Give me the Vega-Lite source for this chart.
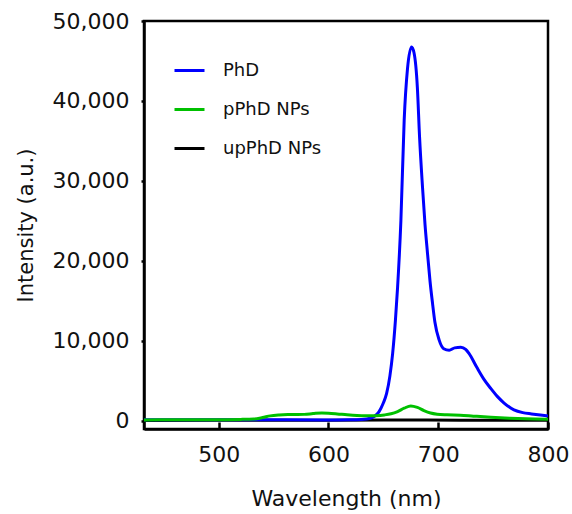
{
  "$schema": "https://vega.github.io/schema/vega-lite/v6.json",
  "autosize": "none",
  "width": 404,
  "height": 408,
  "padding": {"left": 144, "top": 21, "right": 24, "bottom": 85},
  "background": "white",
  "config": {
    "view": {"stroke": "black", "strokeWidth": 2.5},
    "font": "DejaVu Sans"
  },
  "data": {
    "values": [
      {"wavelength": 432, "intensity": 20, "sample": "upPhD NPs"},
      {"wavelength": 500, "intensity": 30, "sample": "upPhD NPs"},
      {"wavelength": 600, "intensity": 50, "sample": "upPhD NPs"},
      {"wavelength": 650, "intensity": 70, "sample": "upPhD NPs"},
      {"wavelength": 680, "intensity": 90, "sample": "upPhD NPs"},
      {"wavelength": 720, "intensity": 60, "sample": "upPhD NPs"},
      {"wavelength": 800, "intensity": 30, "sample": "upPhD NPs"},

      {"wavelength": 432, "intensity": 100, "sample": "PhD"},
      {"wavelength": 450, "intensity": 100, "sample": "PhD"},
      {"wavelength": 480, "intensity": 110, "sample": "PhD"},
      {"wavelength": 500, "intensity": 120, "sample": "PhD"},
      {"wavelength": 530, "intensity": 120, "sample": "PhD"},
      {"wavelength": 560, "intensity": 100, "sample": "PhD"},
      {"wavelength": 600, "intensity": 80, "sample": "PhD"},
      {"wavelength": 620, "intensity": 100, "sample": "PhD"},
      {"wavelength": 630, "intensity": 150, "sample": "PhD"},
      {"wavelength": 638, "intensity": 300, "sample": "PhD"},
      {"wavelength": 642, "intensity": 550, "sample": "PhD"},
      {"wavelength": 646, "intensity": 1100, "sample": "PhD"},
      {"wavelength": 650, "intensity": 2200, "sample": "PhD"},
      {"wavelength": 653, "intensity": 3400, "sample": "PhD"},
      {"wavelength": 656, "intensity": 5600, "sample": "PhD"},
      {"wavelength": 658.5, "intensity": 8400, "sample": "PhD"},
      {"wavelength": 661, "intensity": 12500, "sample": "PhD"},
      {"wavelength": 663, "intensity": 16700, "sample": "PhD"},
      {"wavelength": 666, "intensity": 25000, "sample": "PhD"},
      {"wavelength": 669, "intensity": 37600, "sample": "PhD"},
      {"wavelength": 672, "intensity": 44000, "sample": "PhD"},
      {"wavelength": 675.7, "intensity": 46750, "sample": "PhD"},
      {"wavelength": 678, "intensity": 46000, "sample": "PhD"},
      {"wavelength": 681, "intensity": 41700, "sample": "PhD"},
      {"wavelength": 683, "intensity": 35500, "sample": "PhD"},
      {"wavelength": 685.7, "intensity": 29200, "sample": "PhD"},
      {"wavelength": 688, "intensity": 24500, "sample": "PhD"},
      {"wavelength": 690.2, "intensity": 21000, "sample": "PhD"},
      {"wavelength": 692.5, "intensity": 17500, "sample": "PhD"},
      {"wavelength": 694.8, "intensity": 14700, "sample": "PhD"},
      {"wavelength": 697, "intensity": 12300, "sample": "PhD"},
      {"wavelength": 700.8, "intensity": 10100, "sample": "PhD"},
      {"wavelength": 705, "intensity": 9000, "sample": "PhD"},
      {"wavelength": 710, "intensity": 8800, "sample": "PhD"},
      {"wavelength": 715, "intensity": 9100, "sample": "PhD"},
      {"wavelength": 720.6, "intensity": 9170, "sample": "PhD"},
      {"wavelength": 725, "intensity": 8900, "sample": "PhD"},
      {"wavelength": 728, "intensity": 8400, "sample": "PhD"},
      {"wavelength": 735, "intensity": 6700, "sample": "PhD"},
      {"wavelength": 742, "intensity": 5100, "sample": "PhD"},
      {"wavelength": 748, "intensity": 4000, "sample": "PhD"},
      {"wavelength": 754, "intensity": 3000, "sample": "PhD"},
      {"wavelength": 760, "intensity": 2200, "sample": "PhD"},
      {"wavelength": 769, "intensity": 1350, "sample": "PhD"},
      {"wavelength": 777, "intensity": 1000, "sample": "PhD"},
      {"wavelength": 785, "intensity": 840, "sample": "PhD"},
      {"wavelength": 793, "intensity": 700, "sample": "PhD"},
      {"wavelength": 800, "intensity": 590, "sample": "PhD"},

      {"wavelength": 432, "intensity": 90, "sample": "pPhD NPs"},
      {"wavelength": 460, "intensity": 100, "sample": "pPhD NPs"},
      {"wavelength": 490, "intensity": 110, "sample": "pPhD NPs"},
      {"wavelength": 520, "intensity": 150, "sample": "pPhD NPs"},
      {"wavelength": 532, "intensity": 200, "sample": "pPhD NPs"},
      {"wavelength": 540, "intensity": 380, "sample": "pPhD NPs"},
      {"wavelength": 547, "intensity": 590, "sample": "pPhD NPs"},
      {"wavelength": 555, "intensity": 700, "sample": "pPhD NPs"},
      {"wavelength": 563, "intensity": 750, "sample": "pPhD NPs"},
      {"wavelength": 570, "intensity": 760, "sample": "pPhD NPs"},
      {"wavelength": 578, "intensity": 780, "sample": "pPhD NPs"},
      {"wavelength": 586, "intensity": 880, "sample": "pPhD NPs"},
      {"wavelength": 594, "intensity": 960, "sample": "pPhD NPs"},
      {"wavelength": 600, "intensity": 930, "sample": "pPhD NPs"},
      {"wavelength": 608, "intensity": 840, "sample": "pPhD NPs"},
      {"wavelength": 617, "intensity": 720, "sample": "pPhD NPs"},
      {"wavelength": 626, "intensity": 630, "sample": "pPhD NPs"},
      {"wavelength": 635, "intensity": 600, "sample": "pPhD NPs"},
      {"wavelength": 643, "intensity": 620, "sample": "pPhD NPs"},
      {"wavelength": 651, "intensity": 710, "sample": "pPhD NPs"},
      {"wavelength": 657, "intensity": 850, "sample": "pPhD NPs"},
      {"wavelength": 663, "intensity": 1130, "sample": "pPhD NPs"},
      {"wavelength": 669, "intensity": 1550, "sample": "pPhD NPs"},
      {"wavelength": 675, "intensity": 1840, "sample": "pPhD NPs"},
      {"wavelength": 681, "intensity": 1650, "sample": "pPhD NPs"},
      {"wavelength": 687, "intensity": 1250, "sample": "pPhD NPs"},
      {"wavelength": 693, "intensity": 950, "sample": "pPhD NPs"},
      {"wavelength": 699, "intensity": 800, "sample": "pPhD NPs"},
      {"wavelength": 708, "intensity": 720, "sample": "pPhD NPs"},
      {"wavelength": 720, "intensity": 670, "sample": "pPhD NPs"},
      {"wavelength": 732, "intensity": 560, "sample": "pPhD NPs"},
      {"wavelength": 748, "intensity": 420, "sample": "pPhD NPs"},
      {"wavelength": 765, "intensity": 300, "sample": "pPhD NPs"},
      {"wavelength": 780, "intensity": 220, "sample": "pPhD NPs"},
      {"wavelength": 800, "intensity": 170, "sample": "pPhD NPs"}
    ]
  },
  "mark": {"type": "line", "strokeWidth": 3, "interpolate": "monotone", "clip": true},
  "encoding": {
    "x": {
      "field": "wavelength",
      "type": "quantitative",
      "scale": {"domain": [432, 800], "nice": false, "zero": false},
      "axis": {
        "title": "Wavelength (nm)",
        "values": [500, 600, 700, 800],
        "grid": false,
        "labelFlush": false,
        "labelOverlap": false,
        "domainColor": "black",
        "domainWidth": 2.5,
        "tickColor": "black",
        "tickWidth": 2.5,
        "tickSize": -7,
        "labelFontSize": 22,
        "labelColor": "#111",
        "labelPadding": 22,
        "titleFontSize": 22,
        "titleFontWeight": "normal",
        "titleColor": "#111",
        "titlePadding": 23
      }
    },
    "y": {
      "field": "intensity",
      "type": "quantitative",
      "scale": {"domain": [-1050, 50000], "nice": false, "zero": false},
      "axis": {
        "title": "Intensity (a.u.)",
        "values": [0, 10000, 20000, 30000, 40000, 50000],
        "format": ",d",
        "grid": false,
        "labelOverlap": false,
        "labelFlush": false,
        "domainColor": "black",
        "domainWidth": 2.5,
        "tickColor": "black",
        "tickWidth": 2.5,
        "tickSize": 3,
        "labelFontSize": 22,
        "labelColor": "#111",
        "labelPadding": 12,
        "titleFontSize": 21,
        "titleFontWeight": "normal",
        "titleColor": "#111",
        "titlePadding": 16
      }
    },
    "color": {
      "field": "sample",
      "type": "nominal",
      "scale": {
        "domain": ["PhD", "pPhD NPs", "upPhD NPs"],
        "range": ["#0000ff", "#00c000", "#000000"]
      },
      "legend": {
        "title": null,
        "orient": "none",
        "legendX": 29,
        "legendY": 33,
        "symbolType": "stroke",
        "symbolSize": 900,
        "symbolStrokeWidth": 3,
        "labelFontSize": 18,
        "labelColor": "#111",
        "labelOffset": 17,
        "rowPadding": 13,
        "padding": 0
      }
    }
  }
}
